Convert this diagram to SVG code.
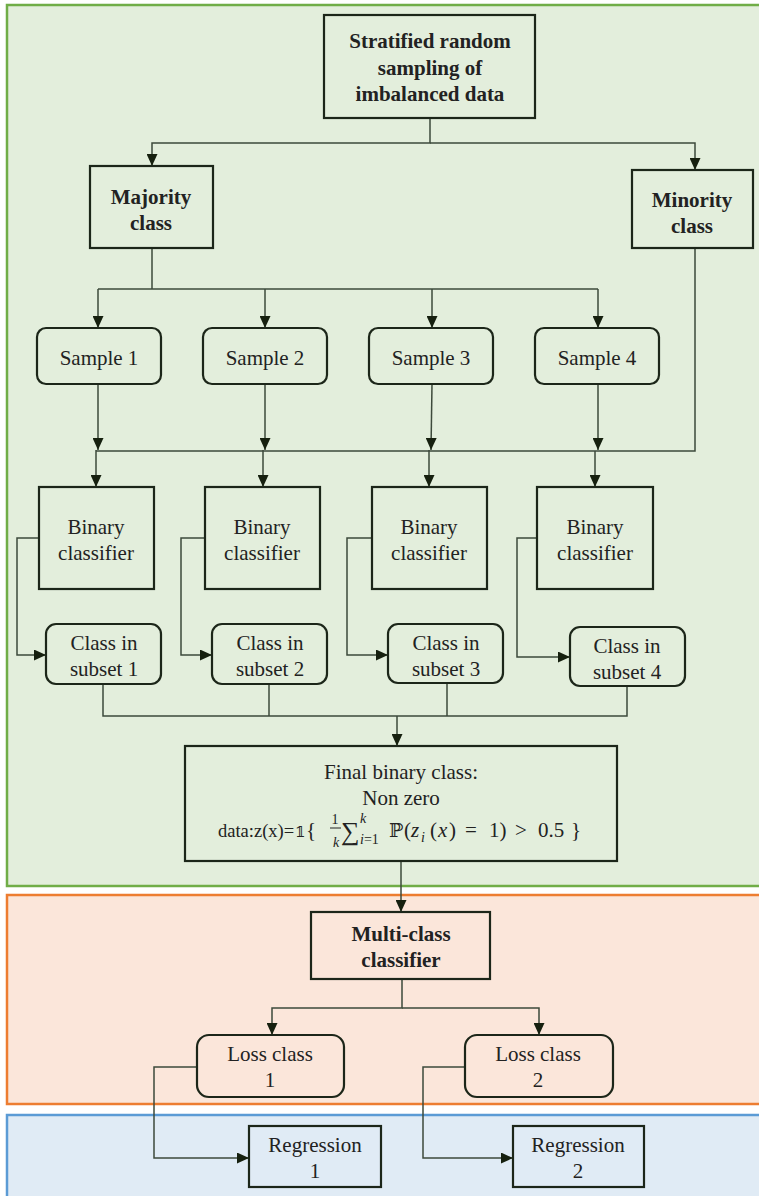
<svg xmlns="http://www.w3.org/2000/svg" width="759" height="1196" viewBox="0 0 759 1196">
<style>
.box{fill:none;stroke:#1c2619;stroke-width:2.2}
.t{font-size:21px;fill:#222;text-anchor:middle}
.b{font-weight:bold}
.c{fill:none;stroke:#3d4a3b;stroke-width:1.5}
.a{marker-end:url(#ah)}
.m{font-size:21px;fill:#222}
.i{font-style:italic}
.s{font-size:14px}
</style>
<defs>
<marker id="ah" markerUnits="userSpaceOnUse" markerWidth="12" markerHeight="11" refX="12" refY="5.5" orient="auto">
<path d="M0,0 L12,5.5 L0,11 z" fill="#16200f"/>
</marker>
</defs>
<g id="panels">
<rect id="panel-green" x="7" y="5" width="770" height="881" fill="#e3eedc" stroke="#70ad47" stroke-width="2.5"/>
<rect id="panel-orange" x="7" y="895" width="770" height="209" fill="#fbe6da" stroke="#ed7d31" stroke-width="2.5"/>
<rect id="panel-blue" x="7" y="1115" width="770" height="100" fill="#e0ebf5" stroke="#5b9bd5" stroke-width="2.5"/>
</g>
<g id="connectors">
<path class="c a" d="M430,118 V143 H152 V166"/>
<path class="c a" d="M430,143 H695 V170"/>
<path class="c" d="M152,248 V289"/>
<path class="c" d="M98,289 H598"/>
<path class="c a" d="M98,289 V328"/>
<path class="c a" d="M265,289 V328"/>
<path class="c a" d="M432,289 V328"/>
<path class="c a" d="M598,289 V328"/>
<path class="c a" d="M98,384 V450"/>
<path class="c a" d="M265,384 V450"/>
<path class="c a" d="M432,384 L431,450"/>
<path class="c a" d="M598,384 V450"/>
<path class="c" d="M695,248 V451 H96"/>
<path class="c a" d="M96,450 V487"/>
<path class="c a" d="M263,450 V487"/>
<path class="c a" d="M429,450 V487"/>
<path class="c a" d="M595,451 V487"/>
<path class="c a" d="M39,538 H17 V655 H46"/>
<path class="c a" d="M205,538 H181 V655 H212"/>
<path class="c a" d="M372,538 H347 V655 H388"/>
<path class="c a" d="M537,538 H517 V657 H570"/>
<path class="c" d="M103,684 V716 H627 V686"/>
<path class="c" d="M269,684 V716"/>
<path class="c" d="M447,683 V716"/>
<path class="c a" d="M397,716 V746"/>
<path class="c a" d="M401,861 V912"/>
<path class="c a" d="M402,979 V1008 H272 V1035"/>
<path class="c a" d="M402,1008 H539 V1035"/>
<path class="c a" d="M197,1067 H154 V1158 H249"/>
<path class="c a" d="M465,1067 H423 V1158 H513"/>
</g>
<g id="nodes" font-family="'Liberation Serif', 'Times New Roman', Times, serif">
<g id="n-stratified">
<rect class="box" x="324" y="15" width="211" height="103"/>
<text class="t b" x="430" y="48">Stratified random</text>
<text class="t b" x="430" y="75">sampling of</text>
<text class="t b" x="430" y="101">imbalanced data</text>
</g>
<g id="n-majority">
<rect class="box" x="90" y="166" width="123" height="82"/>
<text class="t b" x="151" y="204">Majority</text>
<text class="t b" x="151" y="230">class</text>
</g>
<g id="n-minority">
<rect class="box" x="632" y="170" width="121" height="78"/>
<text class="t b" x="692" y="207">Minority</text>
<text class="t b" x="692" y="233">class</text>
</g>
<g id="n-sample1"><rect class="box" x="37" y="328" width="124" height="56" rx="9"/><text class="t" x="99" y="365">Sample 1</text></g>
<g id="n-sample2"><rect class="box" x="203" y="328" width="124" height="56" rx="9"/><text class="t" x="265" y="365">Sample 2</text></g>
<g id="n-sample3"><rect class="box" x="369" y="328" width="124" height="56" rx="9"/><text class="t" x="431" y="365">Sample 3</text></g>
<g id="n-sample4"><rect class="box" x="535" y="328" width="124" height="56" rx="9"/><text class="t" x="597" y="365">Sample 4</text></g>
<g id="n-binary1"><rect class="box" x="39" y="487" width="115" height="102"/><text class="t" x="96" y="534">Binary</text><text class="t" x="96" y="560">classifier</text></g>
<g id="n-binary2"><rect class="box" x="205" y="487" width="115" height="102"/><text class="t" x="262" y="534">Binary</text><text class="t" x="262" y="560">classifier</text></g>
<g id="n-binary3"><rect class="box" x="372" y="487" width="115" height="102"/><text class="t" x="429" y="534">Binary</text><text class="t" x="429" y="560">classifier</text></g>
<g id="n-binary4"><rect class="box" x="537" y="487" width="116" height="102"/><text class="t" x="595" y="534">Binary</text><text class="t" x="595" y="560">classifier</text></g>
<g id="n-subset1"><rect class="box" x="46" y="624" width="115" height="60" rx="10"/><text class="t" x="104" y="650">Class in</text><text class="t" x="104" y="676">subset 1</text></g>
<g id="n-subset2"><rect class="box" x="212" y="624" width="115" height="60" rx="10"/><text class="t" x="270" y="650">Class in</text><text class="t" x="270" y="676">subset 2</text></g>
<g id="n-subset3"><rect class="box" x="388" y="624" width="115" height="59" rx="10"/><text class="t" x="446" y="650">Class in</text><text class="t" x="446" y="676">subset 3</text></g>
<g id="n-subset4"><rect class="box" x="570" y="627" width="115" height="59" rx="10"/><text class="t" x="627" y="653">Class in</text><text class="t" x="627" y="679">subset 4</text></g>
<g id="n-final">
<rect class="box" x="185" y="746" width="432" height="115"/>
<text class="t" x="401" y="779">Final binary class:</text>
<text class="t" x="401" y="805">Non zero</text>
<text class="m" y="837"><tspan x="218" font-size="18.5">data:z(x)=</tspan><tspan x="295" font-size="15" font-family="'DejaVu Serif', 'DejaVu Sans', serif">𝟙</tspan><tspan x="306">{</tspan><tspan x="335" y="824" class="s" text-anchor="middle">1</tspan><tspan x="336" y="847" class="s i" text-anchor="middle">k</tspan><tspan x="341" y="840" font-size="26">∑</tspan><tspan x="360" y="823" class="s i">k</tspan><tspan x="360" y="844" class="s i">i</tspan><tspan class="s">=1</tspan><tspan x="389" y="837" font-family="'DejaVu Serif', 'DejaVu Sans', serif" font-size="19">ℙ</tspan><tspan x="404">(</tspan><tspan x="411" class="i">z</tspan><tspan x="421" y="842" class="s i">i</tspan><tspan x="430" y="837">(</tspan><tspan x="438" class="i">x</tspan><tspan x="449">)</tspan><tspan x="465">=</tspan><tspan x="489">1)</tspan><tspan x="515">&gt;</tspan><tspan x="538">0.5</tspan><tspan x="571">}</tspan></text>
<line x1="330" y1="828" x2="341" y2="828" stroke="#222" stroke-width="1"/>
</g>
<g id="n-multiclass">
<rect class="box" x="311" y="912" width="179" height="67"/>
<text class="t b" x="401" y="941">Multi-class</text>
<text class="t b" x="401" y="967">classifier</text>
</g>
<g id="n-loss1"><rect class="box" x="197" y="1035" width="147" height="62" rx="12"/><text class="t" x="270" y="1061">Loss class</text><text class="t" x="270" y="1087">1</text></g>
<g id="n-loss2"><rect class="box" x="465" y="1035" width="148" height="62" rx="12"/><text class="t" x="538" y="1061">Loss class</text><text class="t" x="538" y="1087">2</text></g>
<g id="n-reg1"><rect class="box" x="249" y="1126" width="132" height="61"/><text class="t" x="315" y="1152">Regression</text><text class="t" x="315" y="1178">1</text></g>
<g id="n-reg2"><rect class="box" x="513" y="1126" width="131" height="61"/><text class="t" x="578" y="1152">Regression</text><text class="t" x="578" y="1178">2</text></g>
</g>
</svg>
